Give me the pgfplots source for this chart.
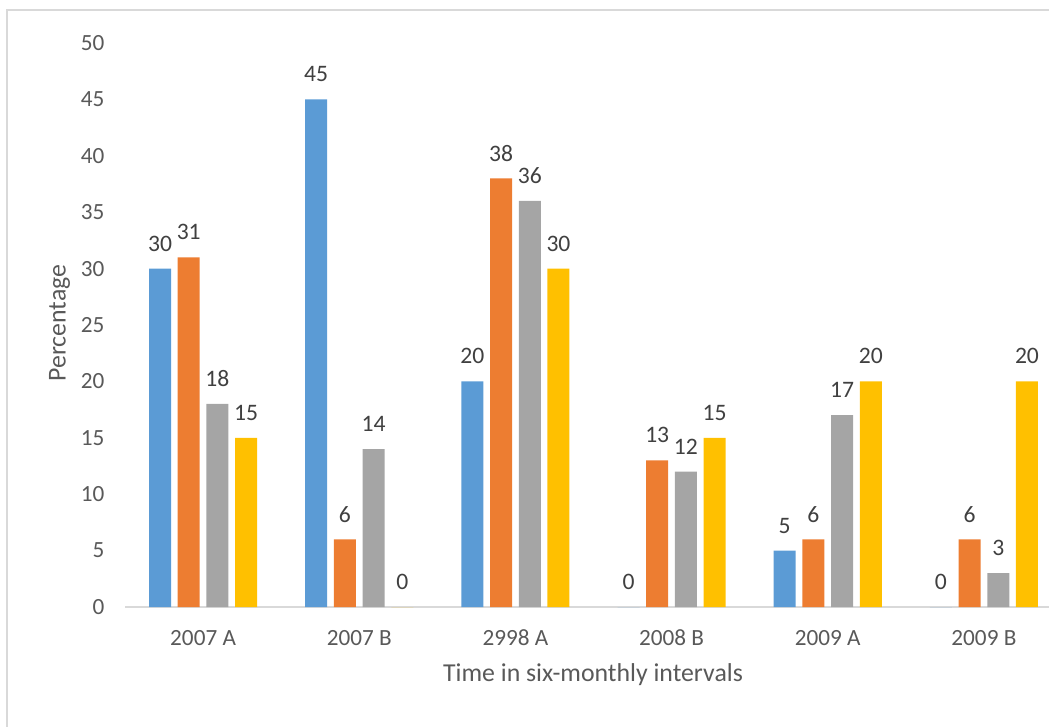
\documentclass[border=0pt]{standalone}
\usepackage{pgfplots}
\pgfplotsset{compat=1.18}
\usepackage{fontspec}
\setmainfont{Carlito}

\definecolor{sBlue}{HTML}{5B9BD5}
\definecolor{sOrange}{HTML}{ED7D31}
\definecolor{sGray}{HTML}{A5A5A5}
\definecolor{sGold}{HTML}{FFC000}
\definecolor{tickText}{HTML}{595959}
\definecolor{valText}{HTML}{404040}
\definecolor{lineGray}{HTML}{D9D9D9}

\begin{document}
\begin{tikzpicture}
\useasboundingbox (0,0) rectangle (524.5pt,-363.5pt);
\clip (0,0) rectangle (524.5pt,-363.5pt);
% chart area border
\draw[lineGray, line width=1pt] (3.5pt,-370pt) -- (3.5pt,-5pt) -- (530pt,-5pt);
\begin{axis}[
  at={(62.5pt,-303.5pt)}, anchor=south west,
  scale only axis, width=468.5pt, height=282pt,
  xmin=-0.5, xmax=5.5, ymin=0, ymax=50,
  ybar=3.35pt, bar width=11pt,
  axis x line=bottom, axis y line=left,
  x axis line style={draw=lineGray, line width=1pt, -},
  y axis line style={draw=none},
  major tick length=0pt,
  xtick={0,...,5},
  xticklabels={2007 A,2007 B,2998 A,2008 B,2009 A,2009 B},
  ytick={0,5,...,50},
  /pgf/number format/assume math mode=true,
  tick label style={font=\fontsize{11.6}{13}\selectfont, color=tickText},
  xticklabel style={anchor=center, yshift=-15.5pt},
  yticklabel style={anchor=east, xshift=-6.8pt},
  nodes near coords,
  every node near coord/.append style={font=\fontsize{11.8}{13}\selectfont, color=valText, anchor=center, yshift=12.5pt},
  clip=false,
]
\addplot[fill=sBlue, draw=none] coordinates {(0,30) (1,45) (2,20) (3,0) (4,5) (5,0)};
\addplot[fill=sOrange, draw=none] coordinates {(0,31) (1,6) (2,38) (3,13) (4,6) (5,6)};
\addplot[fill=sGray, draw=none] coordinates {(0,18) (1,14) (2,36) (3,12) (4,17) (5,3)};
\addplot[fill=sGold, draw=none] coordinates {(0,15) (1,0) (2,30) (3,15) (4,20) (5,20)};
\end{axis}
\node[rotate=90, color=tickText, font=\fontsize{12.9}{14}\selectfont] at (29.75pt,-161.5pt) {Percentage};
\node[color=tickText, font=\fontsize{12.9}{14}\selectfont] at (296.5pt,-337.5pt) {Time in six-monthly intervals};
\end{tikzpicture}
\end{document}
